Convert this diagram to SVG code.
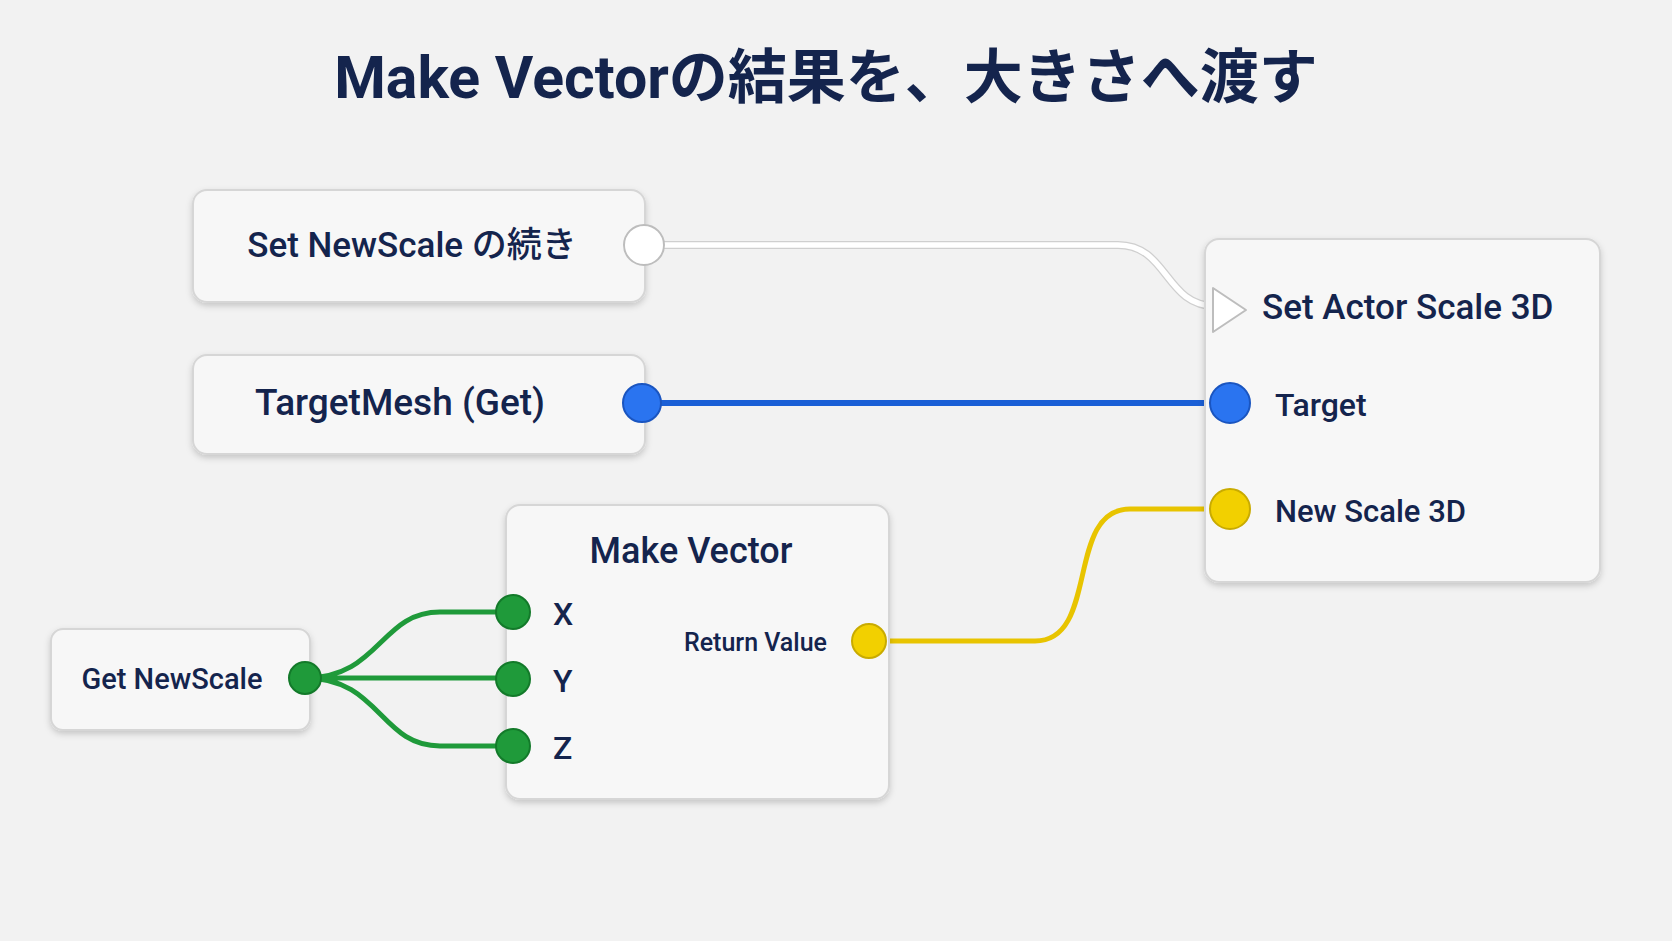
<svg xmlns="http://www.w3.org/2000/svg" width="1672" height="941" viewBox="0 0 1672 941">
<defs>
<filter id="sh" x="-10%" y="-10%" width="120%" height="130%"><feDropShadow dx="0" dy="3" stdDeviation="3" flood-color="#000" flood-opacity="0.18"/></filter>
<style>
.n{fill:#f7f7f7;stroke:#d6d6d6;stroke-width:2;filter:url(#sh)}
.t{font-family:Roboto,"Noto Sans","Noto Sans CJK JP",sans-serif;fill:#14244d;font-weight:500}
.w{fill:none;stroke-linecap:round}
</style>
</defs>
<rect width="1672" height="941" fill="#f2f2f2"/>
<text class="t" x="826" y="98" font-size="59" text-anchor="middle" style="font-weight:700">Make Vectorの結果を、大きさへ渡す</text>
<g id="connectors">
<path class="w" d="M663,245 H1118 C1168,245 1165,306 1215,306" stroke="#cfcfcf" stroke-width="8"/>
<path class="w" d="M663,245 H1118 C1168,245 1165,306 1215,306" stroke="#ffffff" stroke-width="5.5"/>
<path class="w" d="M642,403 H1230" stroke="#1a5fd6" stroke-width="6"/>
<path class="w" d="M869,641 H1035 C1100,641 1065,509 1130,509 H1230" stroke="#e8c400" stroke-width="5"/>
<path class="w" d="M305,678 C380,678 380,612 440,612 H513 M305,678 H513 M305,678 C380,678 380,746 440,746 H513" stroke="#1f9a3a" stroke-width="5"/>
</g>
<g id="set-newscale">
<rect class="n" x="193" y="190" width="452" height="112" rx="14"/>
<text class="t" x="412" y="257" font-size="35" text-anchor="middle">Set NewScale の続き</text>
<circle cx="644" cy="245" r="20" fill="#fff" stroke="#bdbdbd" stroke-width="2"/>
</g>
<g id="targetmesh">
<rect class="n" x="193" y="355" width="452" height="99" rx="14"/>
<text class="t" x="400" y="415" font-size="37" text-anchor="middle">TargetMesh (Get)</text>
<circle cx="642" cy="403" r="19" fill="#2a74f0" stroke="#1a55c0" stroke-width="2"/>
</g>
<g id="set-actor-scale">
<rect class="n" x="1205" y="239" width="395" height="343" rx="14"/>
<path d="M1213,288 L1213,332 L1246,310 Z" fill="#fff" stroke="#bdbdbd" stroke-width="2" stroke-linejoin="round"/>
<text class="t" x="1262" y="319" font-size="35">Set Actor Scale 3D</text>
<circle cx="1230" cy="403" r="20" fill="#2a74f0" stroke="#1a55c0" stroke-width="2"/>
<text class="t" x="1275" y="416" font-size="32">Target</text>
<circle cx="1230" cy="509" r="20" fill="#f2d000" stroke="#c9ab00" stroke-width="2"/>
<text class="t" x="1275" y="522" font-size="31">New Scale 3D</text>
</g>
<g id="make-vector">
<rect class="n" x="506" y="505" width="383" height="294" rx="14"/>
<text class="t" x="691" y="563" font-size="36" text-anchor="middle">Make Vector</text>
<circle cx="513" cy="612" r="17" fill="#1f9a3a" stroke="#137a2a" stroke-width="2"/>
<circle cx="513" cy="679" r="17" fill="#1f9a3a" stroke="#137a2a" stroke-width="2"/>
<circle cx="513" cy="746" r="17" fill="#1f9a3a" stroke="#137a2a" stroke-width="2"/>
<text class="t" x="553" y="625" font-size="32">X</text>
<text class="t" x="553" y="692" font-size="32">Y</text>
<text class="t" x="553" y="759" font-size="32">Z</text>
<text class="t" x="827" y="651" font-size="25" text-anchor="end">Return Value</text>
<circle cx="869" cy="641" r="17" fill="#f2d000" stroke="#c9ab00" stroke-width="2"/>
</g>
<g id="get-newscale">
<rect class="n" x="51" y="629" width="259" height="101" rx="12"/>
<text class="t" x="172" y="689" font-size="29" text-anchor="middle">Get NewScale</text>
<circle cx="305" cy="678" r="16" fill="#1f9a3a" stroke="#137a2a" stroke-width="2"/>
</g>
</svg>
